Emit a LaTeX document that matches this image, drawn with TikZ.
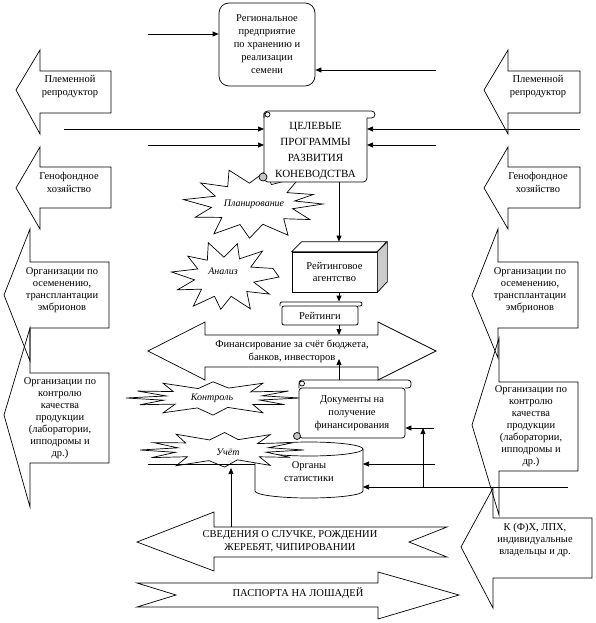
\documentclass[tikz,border=0pt]{standalone}
\usepackage{fontspec}
\setmainfont{Liberation Serif}
\usetikzlibrary{arrows.meta,calc}
\newcommand{\mkburst}[5]{\draw[shp] ({#1+#3},{#2}) \foreach \a/\r in {#5} { -- ({#1+\r*#3*cos(\a)},{#2+\r*#4*sin(\a)}) } -- cycle;}
\begin{document}
\begin{tikzpicture}[x=1pt,y=-1pt,
  ln/.style={line width=0.7pt},
  arr/.style={ln,-{Triangle[length=6pt,width=5pt]}},
  shp/.style={ln,fill=white},
  txt/.style={font=\fontsize{10.5}{13}\selectfont,align=center,inner sep=0pt},
  txtb/.style={font=\fontsize{10.5}{12}\selectfont,align=center,inner sep=0pt},
  captxt/.style={font=\fontsize{11}{16}\selectfont,align=center,inner sep=0pt},
  bigtxt/.style={font=\fontsize{10.5}{13}\selectfont,align=center,inner sep=0pt},
  startxt/.style={font=\itshape\fontsize{10}{12}\selectfont,inner sep=0pt},
  invis/.style={inner sep=0pt,outer sep=0pt}
]
\useasboundingbox (0,0) rectangle (595,623);

% ---------- side arrows (left) ----------
\draw[ln] (111,71) -- (40,71) -- (40,50) -- (16,90) -- (40,134) -- (40,113) -- (111,113) -- cycle;
\node[txt] (plemL) at (70,87) {Племенной\\репродуктор};
\draw[ln] (111,167) -- (40,167) -- (40,147) -- (16,188) -- (40,229) -- (40,208) -- (111,208) -- cycle;
\node[txt] (genL) at (69,182.5) {Генофондное\\хозяйство};
\draw[ln] (109,262) -- (30,262) -- (30,229) -- (4,295) -- (30,361) -- (30,328) -- (109,328) -- cycle;
\node[txtb] (oseL) at (62,290) {Организации по\\осеменению,\\трансплантации\\эмбрионов};
\draw[ln] (109,373) -- (30,373) -- (30,328) -- (4,415) -- (30,507) -- (30,463) -- (109,463) -- cycle;
\node[txtb] (kontL) at (60,418) {Организации по\\контролю\\качества\\продукции\\(лаборатории,\\ипподромы и\\др.)};

% ---------- side arrows (right) ----------
\draw[ln] (580,71) -- (508,71) -- (508,50) -- (484,90) -- (508,134) -- (508,113) -- (580,113) -- cycle;
\node[txt] (plemR) at (538,87) {Племенной\\репродуктор};
\draw[ln] (580,167) -- (508,167) -- (508,147) -- (484,188) -- (508,229) -- (508,208) -- (580,208) -- cycle;
\node[txt] (genR) at (538,182.5) {Генофондное\\хозяйство};
\draw[ln] (578,262) -- (498,262) -- (498,229) -- (472,295) -- (498,358) -- (498,328) -- (578,328) -- cycle;
\node[txtb] (oseR) at (530,290) {Организации по\\осеменению,\\трансплантации\\эмбрионов};
\draw[ln] (578,382) -- (499,382) -- (499,338) -- (472,425) -- (499,515) -- (499,471) -- (578,471) -- cycle;
\node[txtb] (kontR) at (531,426) {Организации по\\контролю\\качества\\продукции\\(лаборатории,\\ипподромы и\\др.)};
\draw[ln] (592,518) -- (493,518) -- (493,488) -- (461,547) -- (493,608) -- (493,578) -- (592,578) -- cycle;
\node[txtb] (kfh) at (535,540) {К (Ф)Х, ЛПХ,\\индивидуальные\\владельцы и др.};

% ---------- top box ----------
\node[ln,draw,fill=white,rounded corners=10pt,minimum width=96pt,minimum height=83pt,txt] (reg) at (267,44.5) {Региональное\\предприятие\\по хранению и\\реализации\\семени};
\coordinate (a1) at (148,34);
\coordinate (a2) at (436,70);
\draw[arr] (a1) -- (a1 -| reg.west);
\draw[arr] (a2) -- (a2 -| reg.east);

% ---------- stars ----------
\mkburst{253}{204}{70}{36}{13/0.58, 28/0.92, 43/0.6, 60/1.0, 76/0.58, 93/0.95, 108/0.6, 124/1.0, 140/0.58, 156/0.9, 171/0.6, 187/1.0, 202/0.58, 218/0.95, 233/0.6, 250/1.0, 265/0.58, 281/0.92, 296/0.6, 312/1.0, 327/0.58, 343/0.9, 352/0.6}
\node[startxt] (plan) at (254,204) {Планирование};
\mkburst{225}{277}{54}{36}{15/0.55, 30/0.95, 45/0.57, 62/1.0, 78/0.55, 95/0.9, 110/0.57, 126/1.0, 142/0.55, 158/0.95, 172/0.57, 188/1.0, 204/0.55, 220/0.9, 235/0.57, 252/1.0, 268/0.55, 284/0.95, 298/0.57, 314/1.0, 330/0.55, 345/0.92}
\node[startxt] (anal) at (223,271) {Анализ};

% ---------- ЦЕЛЕВЫЕ ПРОГРАММЫ ----------
\node[invis,minimum width=103pt,minimum height=71pt] (celbox) at (315.5,146.5) {};
\draw[shp,rounded corners=4pt] (264,113) -- (264,182) -- (367,182) -- (367,118);
\draw[ln,rounded corners=3.5pt] (264,118) -- (264,111) -- (375,111) -- (375,118) -- (367,118);
\draw[ln] (267.5,114.5) circle (2.5pt);
\filldraw[ln,fill=gray!45] (263,177) circle (4pt);
\node[captxt] (cel) at (315.5,151) {ЦЕЛЕВЫЕ\\ПРОГРАММЫ\\РАЗВИТИЯ\\КОНЕВОДСТВА};
\coordinate (c1) at (64,129);
\coordinate (c2) at (148,145);
\coordinate (c3) at (580,129);
\coordinate (c4) at (436,145);
\draw[arr] (c1) -- (c1 -| celbox.west);
\draw[arr] (c2) -- (c2 -| celbox.west);
\draw[arr] (c3) -- (c3 -| celbox.east);
\draw[arr] (c4) -- (c4 -| celbox.east);

% ---------- rating agency ----------
\node[ln,draw,fill=white,minimum width=85pt,minimum height=40pt,txtb] (agy) at (334.5,272) {Рейтинговое\\агентство};
\draw[shp] (agy.north west) -- ++(10,-10) -- ++(85,0) -- (agy.north east) -- cycle;
\draw[ln,fill=gray!40] (agy.north east) -- ++(10,-10) -- ++(0,40) -- (agy.south east) -- cycle;
\coordinate (v) at (339,0);
\draw[arr] (celbox.south -| v) -- ($(agy.north -| v)+(0,-10)$);

% ---------- ratings ----------
\node[ln,draw,fill=white,rounded corners=2pt,minimum width=76pt,minimum height=19pt,txt] (rat) at (320,315.5) {Рейтинги};
\draw[ln,rounded corners=2pt] (280,306) -- (280,302) -- (362,302) -- (362,306) -- (358,306);
\draw[arr] (agy.south -| v) -- ($(rat.north -| v)+(0,-4)$);

% ---------- financing arrow ----------
\draw[shp] (148,351) -- (205,322) -- (205,335) -- (378,335) -- (378,322) -- (436,351) -- (378,380) -- (378,367) -- (205,367) -- (205,380) -- cycle;
\node[bigtxt] (fin) at (292,351) {Финансирование за счёт бюджета,\\банков, инвесторов};
\coordinate (fintop) at (339,335);
\coordinate (finlab) at (339,359);
\draw[arr] (rat.south -| v) -- (fintop);

% ---------- control star ----------
\mkburst{213}{398}{87}{18}{12/0.55, 24/0.9, 38/0.58, 55/1.0, 72/0.55, 90/0.95, 108/0.58, 125/1.0, 142/0.55, 156/0.92, 168/0.58, 180/1.0, 192/0.55, 204/0.95, 218/0.58, 235/1.0, 252/0.55, 270/0.9, 288/0.58, 305/1.0, 322/0.55, 336/0.95, 348/0.58}
\node[startxt] (kontr) at (212,398) {Контроль};

% ---------- documents ----------
\node[ln,draw,fill=white,rounded corners=3pt,minimum width=106pt,minimum height=50pt,txt] (doc) at (352,413) {Документы на\\получение\\финансирования};
\draw[ln,rounded corners=3pt] (299,388) -- (299,380) -- (411,380) -- (411,388) -- (405,388);
\draw[ln] (302,383.5) circle (2.5pt);
\filldraw[ln,fill=gray!45] (297,436) circle (3.5pt);
\draw[arr] ($(doc.north -| v)+(0,-8)$) -- (finlab);

% ---------- statistics (cylinder) ----------
\draw[shp] (255,449) -- (255,491) arc[start angle=180,end angle=360,x radius=54pt,y radius=7pt] -- (363,449) arc[start angle=0,end angle=180,x radius=54pt,y radius=7pt] -- cycle;
\draw[ln] (255,449) arc[start angle=180,end angle=360,x radius=54pt,y radius=7pt];
\node[invis,minimum width=108pt,minimum height=56pt] (stat) at (309,472) {};

% ---------- accounting star ----------
\mkburst{222}{450}{82}{19}{12/0.55, 25/0.92, 38/0.58, 54/1.0, 70/0.55, 88/0.9, 106/0.58, 124/1.0, 140/0.55, 155/0.95, 168/0.58, 180/1.0, 192/0.55, 205/0.92, 220/0.58, 236/1.0, 254/0.55, 272/0.92, 290/0.58, 306/1.0, 322/0.55, 336/0.95, 348/0.58}
\node[startxt] (uch) at (228,452) {Учёт};
\node[txt] (statlab) at (309,472) {Органы\\статистики};
\coordinate (u1) at (148,464);
\draw[ln] (u1) -- (u1 -| stat.west);

% ---------- right-hand connectors ----------
\coordinate (d1) at (434,428);
\coordinate (s1) at (435,464);
\coordinate (s2) at (568,487);
\coordinate (s3) at (423,487);
\draw[arr] (d1) -- (d1 -| doc.east);
\draw[arr] (s1) -- (s1 -| stat.east);
\draw[arr] (s2) -- (s2 -| stat.east);
\draw[arr] (s3) -- (s3 |- d1);

% ---------- bottom arrows ----------
\draw[shp] (137,542) -- (214,512) -- (214,527) -- (447,527) -- (409,542) -- (447,557) -- (214,557) -- (214,571) -- cycle;
\node[bigtxt] (sved) at (290,541) {СВЕДЕНИЯ О СЛУЧКЕ, РОЖДЕНИИ\\ЖЕРЕБЯТ, ЧИПИРОВАНИИ};
\coordinate (sv) at (231,527);
\coordinate (uchb) at (231,468);
\draw[arr] (sv) -- (uchb);
\draw[shp] (137,583) -- (378,583) -- (378,572) -- (459,595) -- (378,619) -- (378,607) -- (137,607) -- (176,595) -- cycle;
\node[bigtxt] (pasp) at (298,593) {ПАСПОРТА НА ЛОШАДЕЙ};
\end{tikzpicture}
\end{document}
